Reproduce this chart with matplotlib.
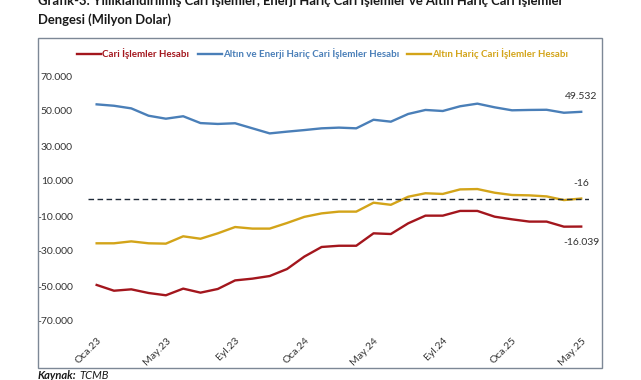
import matplotlib.pyplot as plt
from matplotlib.patches import Rectangle

plt.rcParams['font.family'] = ['Lato', 'DejaVu Sans']

# Veriler (milyon dolar), Oca.23 - May.25
months = ['Oca.23', 'Şub.23', 'Mar.23', 'Nis.23', 'May.23', 'Haz.23', 'Tem.23', 'Ağu.23',
          'Eyl.23', 'Eki.23', 'Kas.23', 'Ara.23', 'Oca.24', 'Şub.24', 'Mar.24', 'Nis.24',
          'May.24', 'Haz.24', 'Tem.24', 'Ağu.24', 'Eyl.24', 'Eki.24', 'Kas.24', 'Ara.24',
          'Oca.25', 'Şub.25', 'Mar.25', 'Nis.25', 'May.25']
cari = [-49400, -52700, -51900, -54000, -55300, -51500, -53800, -51700,
        -46800, -45800, -44300, -40300, -33200, -27700, -27000, -27000,
        -19900, -20300, -14200, -9800, -9800, -7100, -7100, -10400,
        -11900, -13200, -13200, -16100, -16039]
altin_enerji = [53800, 53000, 51500, 47300, 45600, 47000, 43100, 42600,
                43000, 40100, 37200, 38200, 39100, 40100, 40500, 40100,
                45000, 43900, 48300, 50600, 50000, 52700, 54200, 52100,
                50400, 50600, 50700, 49000, 49532]
altin = [-25600, -25600, -24500, -25600, -25800, -21600, -23000, -19900,
         -16300, -17200, -17200, -14000, -10500, -8500, -7500, -7500,
         -2400, -3600, 1000, 3000, 2600, 5200, 5400, 3300,
         2000, 1800, 1200, -900, -16]
yticks = [70000, 50000, 30000, 10000, -10000, -30000, -50000, -70000]
tick_idx = [0, 4, 8, 12, 16, 20, 24, 28]

RED = '#a3161d'
BLUE = '#4a7fb8'
GOLD = '#d3a419'


def fmt(v):
    return f'{v:,.0f}'.replace(',', '.')


fig = plt.figure(figsize=(6.41, 3.80), dpi=100)
W, H = 641, 380

# dış çerçeve
fig.patches.append(Rectangle((38 / W, 1 - 368 / H), (602 - 38) / W, (368 - 38) / H,
                             transform=fig.transFigure, fill=False,
                             edgecolor='#7d8896', linewidth=1.0))

ax = fig.add_axes([88 / W, (H - 338.5) / H, (589 - 88) / W, (338.5 - 58.5) / H])
x = list(range(len(months)))
ax.plot(x, cari, color=RED, lw=1.7)
ax.plot(x, altin_enerji, color=BLUE, lw=1.7)
ax.plot(x, altin, color=GOLD, lw=1.7)
ax.axhline(0, color='#1f2a38', lw=1.0, ls=(0, (4, 2.5)))

ax.set_xlim(-0.5, 28.45)
ax.set_ylim(-80000, 80000)
ax.set_yticks(yticks)
ax.set_yticklabels([fmt(v) for v in yticks], fontsize=7.5, color='#333333')
ax.set_xticks(tick_idx)
ax.set_xticklabels([months[i] for i in tick_idx], rotation=45, ha='right',
                   rotation_mode='anchor', fontsize=7.5, color='#333333')
ax.tick_params(axis='both', length=0)
ax.tick_params(axis='y', pad=11)
ax.tick_params(axis='x', pad=-2)
for s in ax.spines.values():
    s.set_visible(False)

# son değer etiketleri
ax.annotate(fmt(altin_enerji[-1]), (28, altin_enerji[-1]), xytext=(0, 9),
            textcoords='offset points', ha='center', fontsize=7.5, color='#333333')
ax.annotate(fmt(altin[-1]), (28, altin[-1]), xytext=(0, 9),
            textcoords='offset points', ha='center', fontsize=7.5, color='#333333')
ax.annotate(fmt(cari[-1]), (28, cari[-1]), xytext=(0, -13),
            textcoords='offset points', ha='center', fontsize=7.5, color='#333333')

# lejant
leg_items = [(77, 'Cari İşlemler Hesabı', RED),
             (198, 'Altın ve Enerji Hariç Cari İşlemler Hesabı', BLUE),
             (407, 'Altın Hariç Cari İşlemler Hesabı', GOLD)]
for lx, label, c in leg_items:
    fig.add_artist(plt.Line2D([lx / W, (lx + 24) / W], [1 - 54 / H] * 2,
                              color=c, lw=1.7, transform=fig.transFigure))
    fig.text((lx + 25) / W, 1 - 54 / H, label, color=c, fontsize=7,
             fontweight='bold', va='center', ha='left')

# başlık (ilk satır resmin üst kenarında kesik)
fig.text(38 / W, 1 - 5 / H,
         'Grafik-3: Yıllıklandırılmış Cari İşlemler, Enerji Hariç Cari İşlemler ve Altın Hariç Cari İşlemler',
         fontsize=9.4, fontweight='bold', color='#1a1a1a', va='baseline', ha='left')
fig.text(38 / W, 1 - 24 / H, 'Dengesi (Milyon Dolar)',
         fontsize=9.4, fontweight='bold', color='#1a1a1a', va='baseline', ha='left')

# kaynak
fig.text(38 / W, 1 - 379 / H, 'Kaynak:', fontsize=8, fontweight='bold',
         style='italic', color='#1a1a1a', va='baseline')
fig.text(79 / W, 1 - 379 / H, 'TCMB', fontsize=8, style='italic',
         color='#1a1a1a', va='baseline')

fig.savefig('out.png', dpi=100)
